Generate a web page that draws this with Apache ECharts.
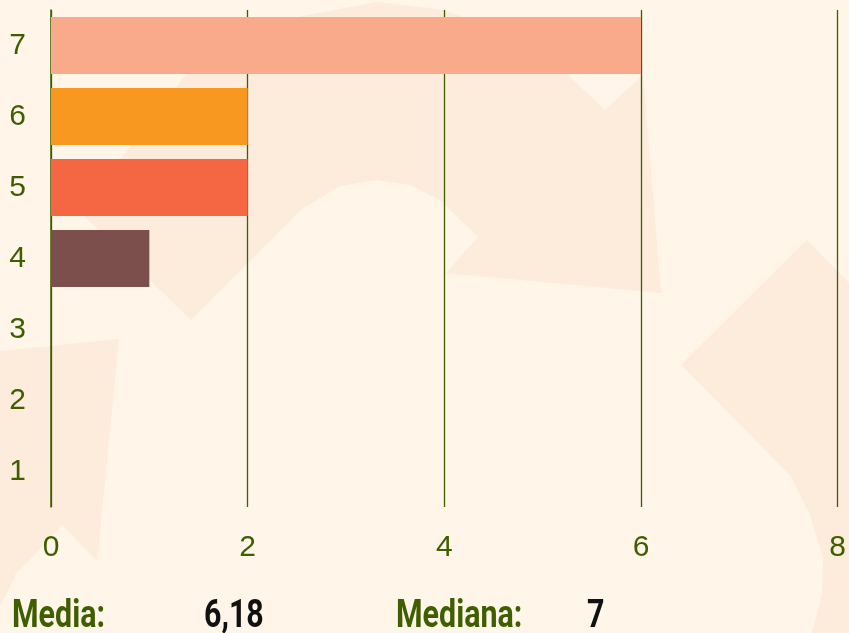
<!DOCTYPE html>
<html>
<head>
<meta charset="utf-8">
<script src="https://cdn.jsdelivr.net/npm/echarts@6/dist/echarts.min.js"></script>
<style>
html,body{margin:0;padding:0;background:#FFF5E8;}
#c{width:849px;height:633px;}
</style>
</head>
<body>
<div id="c"></div>
<script>
const categories = ['1', '2', '3', '4', '5', '6', '7'];
const counts = [0, 0, 0, 1, 2, 2, 6];
const barColors = ['#B9D3B0', '#81BDA4', '#B28F6E', '#7C4E4C', '#F46742', '#F89820', '#F9AA8A'];
const xTicks = [0, 2, 4, 6, 8];
const statLabels = ['Media:', 'Mediana:'];
const statValues = ['6,18', '7'];

const GREEN = '#3F5E00';
const SHAPE = '#FDEBDC';
const tickFont = "'Liberation Sans', Arial, sans-serif";
const statFont = "bold 38px Roboto, 'Liberation Sans', sans-serif";
const SX = 0.8;

const chart = echarts.init(document.getElementById('c'), null, {renderer: 'canvas'});

const shapes = [
  [[377,2],[444,10],[510,35],[568,75],[605,110],[643,75],[661,293],[446,273],[478,237],[440,200],[410,185],[377,180],[340,186],[303,208],[191,320],[80,212],[187,73],[282,20]],
  [[0,351],[119,339],[97,561],[62,525],[30,560],[16,573],[6,595],[0,606]],
  [[807,240],[849,283],[849,633],[812,633],[822,595],[823,557],[810,515],[791,476],[681,365]]
];

function statText(str, x, color) {
  return {
    type: 'text', x: x, y: 598, scaleX: SX, z: 10, silent: true,
    style: {text: str, x: 0, y: 0, fill: color, font: statFont, verticalAlign: 'top', align: 'left'}
  };
}

const option = {
  backgroundColor: '#FFF5E8',
  animation: false,
  grid: {left: 51, right: 11, top: 10, bottom: 126, containLabel: false},
  xAxis: {
    type: 'value',
    min: xTicks[0],
    max: xTicks[xTicks.length - 1],
    interval: 2,
    axisLine: {show: false},
    axisTick: {show: false},
    splitLine: {show: true, lineStyle: {color: GREEN, width: 1.3}},
    axisLabel: {color: GREEN, fontSize: 30, fontFamily: tickFont, margin: 26}
  },
  yAxis: {
    type: 'category',
    data: categories,
    axisLine: {show: true, lineStyle: {color: GREEN, width: 1.5}},
    axisTick: {show: false},
    axisLabel: {color: GREEN, fontSize: 30, fontFamily: tickFont, margin: 25}
  },
  series: [{
    type: 'bar',
    barWidth: '80%',
    data: counts.map((v, i) => ({value: v, itemStyle: {color: barColors[i]}})),
    z: 3
  }],
  graphic: [
    ...shapes.map(pts => ({
      type: 'polygon', z: -10, silent: true,
      shape: {points: pts},
      style: {fill: SHAPE}
    })),
    statText(statLabels[0], 12, GREEN),
    statText(statValues[0], 204, '#111111'),
    statText(statLabels[1], 396, GREEN),
    statText(statValues[1], 587, '#111111')
  ]
};
chart.setOption(option);
</script>
</body>
</html>
